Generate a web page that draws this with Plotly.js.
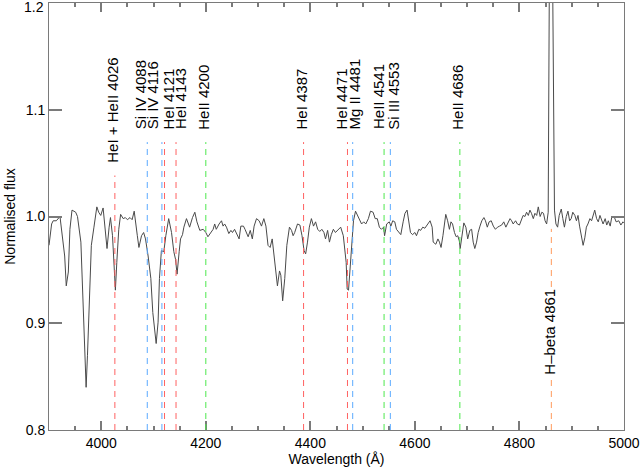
<!DOCTYPE html>
<html>
<head>
<meta charset="utf-8">
<script src="https://cdn.plot.ly/plotly-3.0.1.min.js"></script>
<style>html,body{margin:0;padding:0;background:#fff;}#chart{width:641px;height:471px;}</style>
</head>
<body>
<div id="chart"></div>
<script>
// Spectrum (wavelength in Angstrom, normalised flux)
const wavelength = [3900,3905,3908,3914,3921,3927,3930,3933,3937,3940,3944,3951,3954.5,3961,3965,3968.5,3971,3973.6,3976.7,3981,3986,3991.5,3995,3999,4003.5,4008,4011,4015,4017.6,4021.5,4024.6,4027,4029.7,4033.5,4037,4042,4046,4050,4055,4059,4063,4065.5,4069,4072,4077,4081,4084.6,4089.6,4094.8,4098.6,4102.4,4105,4108.7,4111.3,4115,4119.6,4123.5,4129,4134.4,4138.8,4142,4145,4149,4151.6,4155.4,4158,4163,4169,4174.5,4179,4183,4188.5,4195,4200,4204,4209,4214,4217,4220,4225.4,4230,4233,4236,4239.5,4244,4248,4251,4255,4260,4263.7,4267,4272,4275,4278,4281,4285,4289,4292.4,4297,4302,4306.5,4311,4315,4319,4323,4327,4332,4337,4341,4343.5,4347,4351,4355,4360,4364,4367,4370,4375.4,4380,4384,4388,4391,4394.5,4398,4402,4406,4410,4414,4418,4422,4426,4429,4433,4436.5,4440,4444,4448,4453,4458,4463,4466,4468.5,4470.4,4473,4475.5,4478.7,4482.5,4486.4,4490,4494,4498,4502,4506,4511,4515,4520,4524,4528,4532,4536,4540,4542,4546,4551,4554,4557.5,4561.5,4564.7,4569,4573,4577.5,4581,4585,4588,4591.5,4595.4,4600,4603,4607.5,4611,4615,4619,4622,4626,4629,4633,4635,4640,4644,4647,4650,4653.6,4657,4659,4662.6,4666,4669,4672,4675.7,4679,4682,4685,4686.6,4690,4693.6,4697.5,4701,4705,4708.5,4711.5,4714.6,4718,4721,4724.5,4728,4732,4735,4738.5,4742,4746,4750,4754,4758,4762,4766,4770,4774,4777,4782,4785,4788,4792.6,4796,4800,4804,4807,4810.5,4813.6,4817,4820,4823,4826.5,4829.6,4833,4836,4839.6,4842.8,4846,4849,4852,4855,4857.5,4859.5,4861.5,4863.5,4865.5,4867,4869.8,4873,4876,4880,4883,4886,4889.6,4892.8,4896,4899,4902,4906,4909,4912,4915,4918.7,4921.8,4925,4928,4931,4934.8,4938,4941,4944,4947.6,4950.8,4954,4957,4960,4964,4967,4970,4973.6,4976.8,4981,4985,4990,4994,4998,5000];
const flux = [0.973,0.993,0.996,0.996,1.000,0.976,0.963,0.935,0.948,0.988,1.006,1.004,1.000,0.976,0.926,0.870,0.840,0.870,0.917,0.973,0.990,1.009,1.004,1.001,1.008,0.982,0.970,0.990,0.999,0.982,0.951,0.931,0.957,0.988,1.002,0.998,0.999,0.997,0.999,0.997,1.005,0.997,0.982,0.971,0.982,0.985,0.979,0.963,0.942,0.910,0.888,0.881,0.901,0.942,0.968,0.967,0.982,0.998,0.985,0.967,0.960,0.946,0.967,0.979,0.983,0.990,0.998,0.990,0.999,1.004,0.995,0.987,0.988,0.985,0.981,0.984,0.988,0.993,0.988,0.993,0.996,0.991,0.993,0.990,0.984,0.987,0.985,0.988,0.982,0.979,0.991,0.991,0.988,0.985,0.981,0.987,0.979,0.991,0.998,0.996,0.991,0.998,0.991,0.973,0.971,0.979,0.955,0.935,0.949,0.945,0.921,0.942,0.973,0.990,0.987,0.982,0.985,0.993,0.992,0.982,0.968,0.965,0.976,0.990,0.998,0.991,0.995,0.988,0.986,0.988,0.985,0.979,0.987,0.976,0.983,0.988,0.985,0.988,0.990,0.982,0.971,0.957,0.932,0.931,0.948,0.973,0.996,1.005,1.001,0.996,0.993,0.995,0.993,0.998,1.005,1.004,0.998,0.998,0.990,0.988,0.990,0.982,0.993,0.995,0.991,0.996,0.995,0.988,0.985,0.983,0.995,1.003,1.006,0.996,0.985,0.983,0.985,0.982,0.988,0.987,0.990,0.989,0.991,0.993,0.996,0.990,0.976,0.974,0.979,0.976,0.971,0.982,0.995,1.002,0.996,0.988,0.995,0.993,0.985,0.981,0.982,0.977,0.970,0.982,0.994,0.990,0.979,0.987,0.988,0.976,0.970,0.976,0.985,0.991,0.996,0.999,0.996,0.990,0.995,0.996,0.991,0.988,0.990,0.991,0.992,0.995,0.990,0.993,0.998,0.996,0.993,0.996,0.993,0.992,0.998,1.001,1.000,1.004,1.001,1.006,1.003,0.998,1.003,1.001,1.009,1.000,1.004,1.003,0.996,0.993,1.004,1.25,1.45,1.40,1.22,1.03,1.006,0.993,0.990,1.001,1.007,0.998,0.990,1.000,1.005,0.996,0.998,1.004,1.001,0.996,1.001,0.991,0.979,0.973,0.980,0.990,0.993,0.998,0.996,1.001,1.006,0.998,0.995,1.001,0.996,0.993,0.998,0.992,0.996,0.991,1.000,1.000,0.995,0.996,0.992,0.995,0.994];

// Axis tick values / labels
const xTickVals = [4000,4200,4400,4600,4800,5000];
const yTickVals = [0.8,0.9,1.0,1.1,1.2];
const yTickText = ["0.8","0.9","1.0","1.1","1.2"];

// Line identifications
const lineLabels = ["HeI + HeII 4026","Si IV 4088","Si IV 4116","HeI 4121","HeI 4143","HeII 4200","HeI 4387","HeI 4471","Mg II 4481","HeII 4541","Si III 4553","HeII 4686","H\u2013beta 4861"];
const lineWavelengths = [4026,4088,4116,4121,4143,4200,4387,4471,4481,4541,4553,4686,4861];
const lineSpecies = ["HeI","Si","Si","HeI","HeI","HeII","HeI","HeI","Mg","HeII","Si","HeII","H"];

// Styling (not data)
const speciesColor = {HeI:"#ff6262", HeII:"#4de84d", Si:"#5aaaff", Mg:"#5aaaff", H:"#ff9a5c"};
const labelShift = [-2,-6,-9,4,5,-2,-2,-6,2,-5,3,-2,-2];
const labelBottom = [1.0488,1.0797,1.0797,1.0797,1.0797,1.0797,1.0797,1.0797,1.0797,1.0797,1.0797,1.0797,null];
const lineTop = [1.0384,1.0697,1.0697,1.0697,1.0697,1.0697,1.0697,1.0697,1.0697,1.0697,1.0697,1.0697,0.9884];
const FONT = "Liberation Sans, Arial, Helvetica, sans-serif";
const AXC = "#7a7a7a";
const TICKC = "#7a7a7a";

const shapes = lineWavelengths.map((w,i) => ({
  type:"line", xref:"x", yref:"y", x0:w, x1:w, y0:0.8, y1:lineTop[i],
  line:{color:speciesColor[lineSpecies[i]], width:1, dash:"6px,5px"}, layer:"above"
}));

const annotations = lineWavelengths.map((w,i) => {
  const a = {x:w, xref:"x", yref:"y", text:lineLabels[i], showarrow:false, textangle:-90,
    xanchor:"center", xshift:labelShift[i], font:{family:FONT, size:15, color:"#000"}};
  if (labelBottom[i] === null) { a.y = 0.8924; a.yanchor = "middle"; a.bgcolor = "#ffffff"; a.borderpad = 0; }
  else { a.y = labelBottom[i]; a.yanchor = "bottom"; }
  return a;
});
// top y tick label (Plotly hides it because it touches the top edge of the page)
annotations.push({x:0, xref:"paper", xanchor:"right", xshift:-3, y:yTickVals[yTickVals.length-1], yref:"y",
  yanchor:"middle", yshift:-4, text:yTickText[yTickText.length-1], showarrow:false,
  font:{family:FONT, size:14, color:"#000"}});

const trace = {x:wavelength, y:flux, type:"scatter", mode:"lines",
  line:{color:"#4a4a4a", width:1}, hoverinfo:"skip", showlegend:false, cliponaxis:true};

const axisCommon = {showgrid:false, zeroline:false, showline:true, linecolor:AXC, linewidth:1,
  mirror:"allticks", ticks:"inside", tickcolor:TICKC, tickwidth:2,
  tickfont:{family:FONT, size:14, color:"#000"}};

const layout = {
  width:641, height:471,
  margin:{l:49, r:17, t:3, b:41},
  paper_bgcolor:"#fff", plot_bgcolor:"#fff",
  font:{family:FONT, size:14, color:"#000"},
  xaxis:Object.assign({}, axisCommon, {range:[3900,5000], tickmode:"array", tickvals:xTickVals,
    ticktext:xTickVals.map(String), ticklen:9,
    minor:{dtick:50, tick0:3900, ticklen:4, ticks:"inside", tickcolor:TICKC, tickwidth:2, showgrid:false},
    title:{text:"Wavelength (\u00c5)", font:{family:FONT, size:14, color:"#000"}, standoff:4}}),
  yaxis:Object.assign({}, axisCommon, {range:[0.8,1.2], tickmode:"array", tickvals:yTickVals, ticktext:yTickText, ticklen:13,
    title:{text:"Normalised flux", font:{family:FONT, size:14, color:"#000"}, standoff:6}}),
  shapes:shapes, annotations:annotations, showlegend:false
};

Plotly.newPlot("chart", [trace], layout, {staticPlot:true, displayModeBar:false});
</script>
</body>
</html>
